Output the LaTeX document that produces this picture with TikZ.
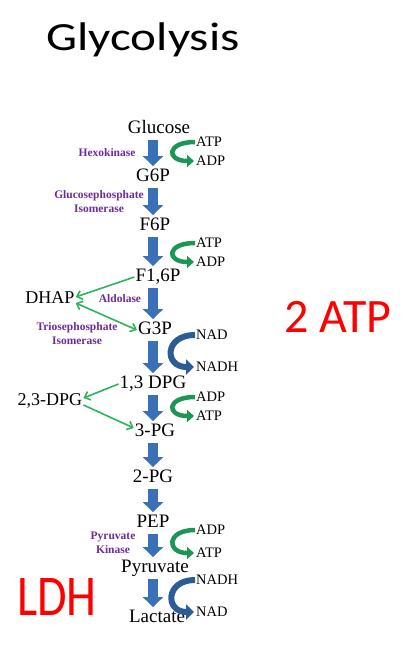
\documentclass[tikz,border=0pt]{standalone}
\usepackage{fontspec}
\setmainfont{Liberation Serif}
\newfontfamily\slidefont{Carlito}
\usetikzlibrary{arrows.meta}

\definecolor{flowblue}{RGB}{58,112,184}
\definecolor{nadblue}{RGB}{44,92,150}
\definecolor{atpgreen}{RGB}{28,150,84}
\definecolor{sidegreen}{RGB}{46,180,90}
\definecolor{enzpurple}{RGB}{108,44,156}

\begin{document}
\begin{tikzpicture}[
    x=1pt, y=-1pt,
    cmpd/.style={inner sep=1pt, text height=12.5pt, text depth=3pt, font=\fontsize{19}{21}\selectfont},
    leftcmpd/.style={cmpd, font=\fontsize{18}{20}\selectfont},
    cof/.style={anchor=west, inner sep=1pt, font=\fontsize{14.5}{16}\selectfont},
    enz/.style={align=center, text=enzpurple, font=\fontsize{11.5}{14}\selectfont\bfseries},
    flow/.style={-{Triangle[length=10pt,width=20pt]}, line width=10pt, draw=flowblue, shorten <=2pt, shorten >=2pt},
    swing/.style={-{Triangle[length=7pt,width=12pt]}, line width=4.5pt, draw=atpgreen, shorten >=1pt},
    nadswing/.style={swing, line width=6pt, draw=nadblue, -{Triangle[length=8pt,width=15pt]}},
    side/.style={-{Straight Barb[length=5pt,width=9pt]}, line width=1.6pt, draw=sidegreen},
    big/.style={text=red, font=\slidefont\fontsize{48}{52}\selectfont}
]
\useasboundingbox (0,0) rectangle (409,648);
\coordinate (spine) at (153,0);

% titles
\node[font=\slidefont\fontsize{40}{44}\selectfont, xscale=1.23, transform shape] (title) at (143,40) {Glycolysis};
\node[big] (twoatp) at (338,317) {2 ATP};
\node[big, yscale=1.2, transform shape] (ldh) at (57,597) {LDH};

% main pathway
\node[cmpd] (glc) at (159,129) {Glucose};
\node[cmpd] (g6p) at (153,177) {G6P};
\node[cmpd] (f6p) at (155,226) {F6P};
\node[cmpd] (f16p) at (158,277) {F1,6P};
\node[cmpd] (g3p) at (155,330) {G3P};
\node[cmpd] (bpg) at (153,384) {1,3 DPG};
\node[cmpd] (pg3) at (155,432) {3-PG};
\node[cmpd] (pg2) at (153,478) {2-PG};
\node[cmpd] (pep) at (153,523) {PEP};
\node[cmpd] (pyr) at (155,568) {Pyruvate};
\node[cmpd] (lac) at (157,618) {Lactate};
\node[leftcmpd] (dhap) at (50,299) {DHAP};
\node[leftcmpd] (dpg) at (50,401) {2,3-DPG};

% enzymes
\node[enz] (hk) at (107,153) {Hexokinase};
\node[enz] (gpi) at (99,202) {Glucosephosphate\\Isomerase};
\node[enz] (ald) at (120,299) {Aldolase};
\node[enz] (tpi) at (77,334) {Triosephosphate\\Isomerase};
\node[enz] (pk) at (113,543) {Pyruvate\\Kinase};

% cofactors
\node[cof] (atp1) at (195,142) {ATP};
\node[cof] (adp1) at (195,161) {ADP};
\node[cof] (atp2) at (195,243) {ATP};
\node[cof] (adp2) at (195,262) {ADP};
\node[cof] (nad1) at (195,335) {NAD};
\node[cof] (nadh1) at (195,367) {NADH};
\node[cof] (adp3) at (195,397) {ADP};
\node[cof] (atp3) at (195,416) {ATP};
\node[cof] (adp4) at (195,530) {ADP};
\node[cof] (atp4) at (195,553) {ATP};
\node[cof] (nadh2) at (195,580) {NADH};
\node[cof] (nad2) at (195,612) {NAD};

% pathway arrows
\foreach \a/\b in {glc/g6p, g6p/f6p, f6p/f16p, f16p/g3p, g3p/bpg, bpg/pg3, pg3/pg2, pg2/pep, pep/pyr, pyr/lac}
    \draw[flow] (\a.south -| spine) -- (\b.north -| spine);

% cofactor swings
\draw[swing] (atp1.west) .. controls +(-29,0) and +(-29,0) .. (adp1.west);
\draw[swing] (atp2.west) .. controls +(-29,0) and +(-29,0) .. (adp2.west);
\draw[nadswing] (nad1.west) .. controls +(-31,0) and +(-31,0) .. (nadh1.west);
\draw[swing] (adp3.west) .. controls +(-29,0) and +(-29,0) .. (atp3.west);
\draw[swing] (adp4.west) .. controls +(-29,0) and +(-29,0) .. (atp4.west);
\draw[nadswing] (nadh2.west) .. controls +(-30,0) and +(-30,0) .. (nad2.west);

% side branches
\draw[side] (f16p.west) -- ([yshift=2pt]dhap.east);
\draw[side, {Straight Barb[length=5pt,width=9pt]}-{Straight Barb[length=5pt,width=9pt]}] ([yshift=-4pt]dhap.east) -- (g3p.west);
\draw[side] (bpg.west) -- ([yshift=3pt]dpg.east);
\draw[side] ([yshift=-4pt]dpg.east) -- ([yshift=4pt]pg3.west);
\end{tikzpicture}
\end{document}
